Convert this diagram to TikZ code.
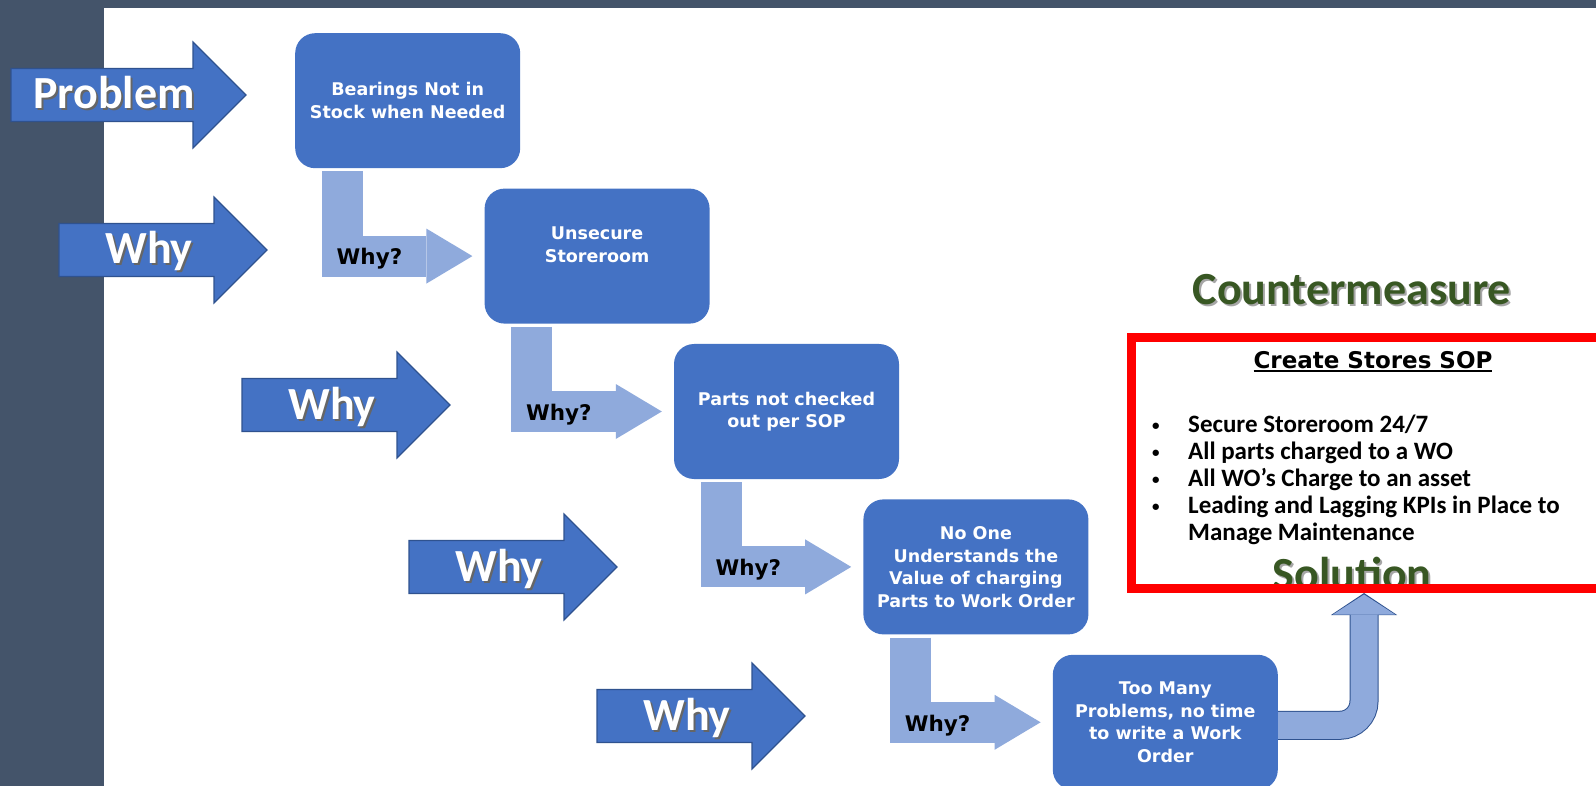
\documentclass[tikz,border=0pt]{standalone}
\usepackage{fontspec}
\setmainfont{Carlito}
\newfontfamily\boxfont{DejaVu Sans}
\usetikzlibrary{arrows.meta,positioning}

\definecolor{slate}{HTML}{44546A}
\definecolor{boxblue}{HTML}{4472C4}
\definecolor{pale}{HTML}{8FAADC}
\definecolor{edgeblue}{HTML}{2F528F}
\definecolor{cmgreen}{HTML}{385723}

\newcommand{\shadowed}[2][black!60]{\leavevmode\rlap{\kern2pt\raisebox{-2pt}{\textcolor{#1}{#2}}}#2}
\newcommand{\ulbold}[1]{\setbox0\hbox{#1}\rlap{\rule[-4pt]{\wd0}{2pt}}\box0}
\newcommand{\bul}{\makebox[36pt][l]{\raisebox{1.5pt}{\fontsize{15}{15}\selectfont\textbullet}}}

\tikzset{
  whybox/.style={fill=boxblue, rounded corners=20pt, minimum width=225pt, minimum height=135pt,
    inner sep=0pt, text=white, align=center, font=\boxfont\bfseries\fontsize{17.5}{22.5}\selectfont},
  pics/bigarrow/.style={code={
    \filldraw[fill=boxblue, draw=edgeblue, line width=1.2pt]
      (0,-26.5) -- (#1-53,-26.5) -- (#1-53,-53) -- (#1,0) -- (#1-53,53) -- (#1-53,26.5) -- (0,26.5) -- cycle;}},
  bigword/.style={text=white, font=\bfseries\fontsize{46}{50}\selectfont, anchor=base, inner sep=0pt},
  greenword/.style={text=cmgreen, font=\bfseries\fontsize{46}{50}\selectfont, anchor=base, inner sep=0pt},
  whyflow/.style={draw=pale, line width=41pt, -{Triangle[length=46pt, width=55pt, line width=0pt]},
    shorten >=12pt, shorten <=3pt},
  whylab/.style={text=black, font=\boxfont\bfseries\fontsize{21.5}{24}\selectfont, inner sep=0pt},
  solflow/.style={rounded corners=24pt}
}

\begin{document}
\begin{tikzpicture}[x=1pt, y=-1pt]
\useasboundingbox (0,0) rectangle (1596,786);
\fill[slate] (0,0) rectangle (1596,786);
\fill[white] (104,8) rectangle (1596,786);

% problem / why arrows on the left
\pic (prob) at (11,95) {bigarrow=235};
\node[bigword] (probtxt) at (11+103,95+14) {\shadowed{Problem}};
\foreach \n/\px/\py in {1/59/250, 2/242/405, 3/409/567, 4/597/716} {
  \pic (w\n) at (\px,\py) {bigarrow=208};
  \node[bigword] (wt\n) at (\px+90,\py+14) {\shadowed{Why}};
}

% the five whys
\node[whybox, anchor=north west] (b1) at (295,33) {Bearings Not in\\Stock when Needed};
\node[whybox, below right=20pt and -36pt of b1] (b2) {Unsecure\\Storeroom\\~};
\node[whybox, below right=20pt and -36pt of b2] (b3) {Parts not checked\\out per SOP};
\node[whybox, below right=20pt and -36pt of b3] (b4) {No One\\Understands the\\Value of charging\\Parts to Work Order};
\node[whybox, below right=20pt and -36pt of b4] (b5) {Too Many\\Problems, no time\\to write a Work\\Order};

\foreach \a/\b in {b1/b2, b2/b3, b3/b4, b4/b5}
  \draw[whyflow] ([xshift=47.5pt]\a.south west) |- (\b.west)
    node[whylab, pos=0.5, xshift=27pt, yshift=-3pt] {Why?};

% countermeasure
\node[greenword] (cm) at (1352,305) {\shadowed[black!35]{Countermeasure}};
\node[font=\boxfont\bfseries\fontsize{23}{26}\selectfont, anchor=base, inner sep=0pt] (sop) at (1373,368) {\ulbold{Create Stores SOP}};
\node[anchor=base west, inner sep=0pt, font=\bfseries\fontsize{25}{27}\selectfont] (items) at (1152,432)
  {\begin{tabular}[t]{@{}l@{}}
   \bul Secure Storeroom 24/7\\
   \bul All parts charged to a WO\\
   \bul All WO’s Charge to an asset\\
   \bul Leading and Lagging KPIs in Place to\\
   \hphantom{\bul}Manage Maintenance
   \end{tabular}};
\node[greenword] (soltxt) at (1352,589) {\shadowed[black!35]{Solution}};

\coordinate (soltip) at (1364,593);
\draw[solflow, draw=edgeblue, line width=29pt, -{Triangle[length=22pt, width=66pt, line width=0pt]}]
  ([yshift=-3pt]b5.east) -| (soltip);
\draw[solflow, draw=pale, line width=27pt, -{Triangle[length=20pt, width=62pt, line width=0pt]}, shorten >=1.5pt]
  ([yshift=-3pt]b5.east) -| (soltip);

\draw[red, line width=9pt] (1131.5,337.5) rectangle (1640,588.5);
\end{tikzpicture}
\end{document}
